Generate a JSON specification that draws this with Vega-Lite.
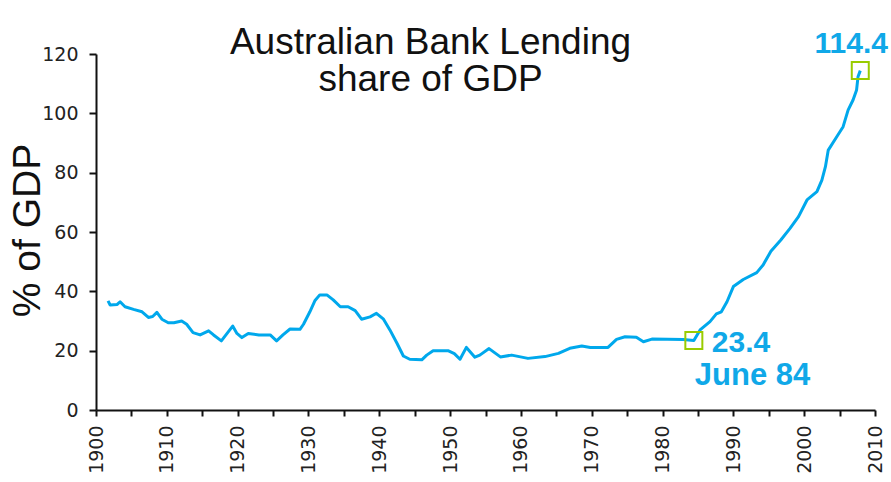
{
  "$schema": "https://vega.github.io/schema/vega-lite/v6.json",
  "autosize": "none",
  "width": 779,
  "height": 356,
  "padding": {"left": 96, "top": 54, "right": 16, "bottom": 72},
  "background": "white",
  "config": {"view": {"stroke": null}},
  "title": {
    "text": ["Australian Bank Lending", "share of GDP"],
    "font": "Liberation Sans",
    "fontSize": 37,
    "fontWeight": "normal",
    "color": "#111111",
    "anchor": "middle",
    "lineHeight": 37,
    "dx": -55,
    "offset": -70
  },
  "datasets": {
    "series": [
      {"year": 1901.7, "value": 36.8}, {"year": 1902.0, "value": 35.4}, {"year": 1903.0, "value": 35.6},
      {"year": 1903.4, "value": 36.5}, {"year": 1904.1, "value": 34.8}, {"year": 1905.3, "value": 33.9},
      {"year": 1906.5, "value": 33.1}, {"year": 1907.4, "value": 31.2}, {"year": 1908.0, "value": 31.5},
      {"year": 1908.6, "value": 32.9}, {"year": 1909.3, "value": 30.6}, {"year": 1910.2, "value": 29.4},
      {"year": 1911.0, "value": 29.4}, {"year": 1912.1, "value": 30.0}, {"year": 1912.8, "value": 28.9},
      {"year": 1913.7, "value": 26.1}, {"year": 1914.7, "value": 25.3}, {"year": 1915.9, "value": 26.7},
      {"year": 1916.6, "value": 25.3}, {"year": 1917.7, "value": 23.3}, {"year": 1918.7, "value": 26.4},
      {"year": 1919.3, "value": 28.3}, {"year": 1919.9, "value": 25.8}, {"year": 1920.6, "value": 24.4},
      {"year": 1921.5, "value": 25.8}, {"year": 1923.0, "value": 25.3}, {"year": 1924.6, "value": 25.3},
      {"year": 1925.5, "value": 23.3}, {"year": 1926.4, "value": 25.3}, {"year": 1927.4, "value": 27.3},
      {"year": 1928.8, "value": 27.2}, {"year": 1929.3, "value": 28.9}, {"year": 1930.2, "value": 33.1},
      {"year": 1930.9, "value": 36.8}, {"year": 1931.6, "value": 38.8}, {"year": 1932.6, "value": 38.8},
      {"year": 1933.5, "value": 37.1}, {"year": 1934.5, "value": 34.8}, {"year": 1935.6, "value": 34.8},
      {"year": 1936.6, "value": 33.5}, {"year": 1937.5, "value": 30.6}, {"year": 1938.7, "value": 31.4},
      {"year": 1939.6, "value": 32.6}, {"year": 1940.6, "value": 30.6}, {"year": 1941.5, "value": 27.0},
      {"year": 1942.5, "value": 22.5}, {"year": 1943.4, "value": 18.2}, {"year": 1944.3, "value": 17.1},
      {"year": 1946.0, "value": 16.9}, {"year": 1946.7, "value": 18.5}, {"year": 1947.6, "value": 20.0},
      {"year": 1949.7, "value": 20.0}, {"year": 1950.6, "value": 19.0}, {"year": 1951.4, "value": 17.1},
      {"year": 1952.3, "value": 21.1}, {"year": 1953.5, "value": 17.8}, {"year": 1954.2, "value": 18.5},
      {"year": 1955.5, "value": 20.7}, {"year": 1957.1, "value": 17.9}, {"year": 1958.7, "value": 18.5},
      {"year": 1961.0, "value": 17.4}, {"year": 1963.4, "value": 18.0}, {"year": 1965.3, "value": 19.1},
      {"year": 1966.9, "value": 20.8}, {"year": 1968.6, "value": 21.6}, {"year": 1969.8, "value": 21.1},
      {"year": 1972.3, "value": 21.1}, {"year": 1973.5, "value": 23.8}, {"year": 1974.7, "value": 24.7},
      {"year": 1976.3, "value": 24.5}, {"year": 1977.3, "value": 23.0}, {"year": 1978.5, "value": 23.9},
      {"year": 1982.9, "value": 23.8}, {"year": 1984.42, "value": 23.4}, {"year": 1985.3, "value": 27.0},
      {"year": 1986.7, "value": 29.8}, {"year": 1987.6, "value": 32.4}, {"year": 1988.3, "value": 33.1},
      {"year": 1989.1, "value": 36.5}, {"year": 1990.0, "value": 41.6}, {"year": 1991.4, "value": 44.0},
      {"year": 1993.3, "value": 46.3}, {"year": 1994.2, "value": 48.9}, {"year": 1995.3, "value": 53.5},
      {"year": 1996.7, "value": 57.3}, {"year": 1998.0, "value": 61.2}, {"year": 1999.2, "value": 65.2},
      {"year": 2000.4, "value": 70.8}, {"year": 2001.8, "value": 73.6}, {"year": 2002.5, "value": 77.5},
      {"year": 2003.0, "value": 82.0}, {"year": 2003.4, "value": 87.6}, {"year": 2004.6, "value": 92.1},
      {"year": 2005.5, "value": 95.5}, {"year": 2006.2, "value": 101.1}, {"year": 2006.9, "value": 104.5},
      {"year": 2007.4, "value": 107.9}, {"year": 2007.6, "value": 112.3}, {"year": 2007.92, "value": 114.4}
    ],
    "points": [
      {"year": 1984.42, "value": 23.4, "label": "23.4", "sub": "June 84"},
      {"year": 2007.92, "value": 114.4, "label": "114.4", "sub": ""}
    ]
  },
  "encoding": {
    "x": {
      "field": "year", "type": "quantitative",
      "scale": {"domain": [1900, 2010], "nice": false, "zero": false},
      "axis": {
        "title": null,
        "values": [1900,1905,1910,1915,1920,1925,1930,1935,1940,1945,1950,1955,1960,1965,1970,1975,1980,1985,1990,1995,2000,2005,2010],
        "format": "d",
        "labelExpr": "datum.value % 10 === 0 ? datum.label : ''",
        "labelAngle": -90,
        "labelFont": "DejaVu Sans",
        "labelFontSize": 19,
        "labelColor": "#222222",
        "labelPadding": 9,
        "labelFlush": false,
        "labelOverlap": false,
        "grid": false,
        "domainColor": "#111111",
        "domainWidth": 2,
        "tickColor": "#111111",
        "tickWidth": 2,
        "tickSize": 6
      }
    },
    "y": {
      "field": "value", "type": "quantitative",
      "scale": {"domain": [0, 120], "nice": false},
      "axis": {
        "title": "% of GDP",
        "titleFont": "Liberation Sans",
        "titleFontSize": 39,
        "titleFontWeight": "normal",
        "titleColor": "#111111",
        "titleAngle": -90,
        "titleX": -57,
        "titleY": 176,
        "titleAlign": "center",
        "titleBaseline": "alphabetic",
        "values": [0, 20, 40, 60, 80, 100, 120],
        "labelFont": "DejaVu Sans",
        "labelFontSize": 19,
        "labelColor": "#222222",
        "labelPadding": 11,
        "labelFlush": false,
        "grid": false,
        "domainColor": "#111111",
        "domainWidth": 2,
        "tickColor": "#111111",
        "tickWidth": 2,
        "tickSize": 7
      }
    }
  },
  "layer": [
    {
      "data": {"name": "series"},
      "mark": {"type": "line", "color": "#00A8EC", "strokeWidth": 3, "strokeJoin": "round"}
    },
    {
      "data": {"name": "points"},
      "mark": {"type": "point", "shape": "square", "size": 289, "filled": false, "stroke": "#99CC00", "strokeWidth": 2, "opacity": 1}
    },
    {
      "data": {"name": "points"},
      "transform": [{"filter": "datum.year < 2000"}],
      "mark": {"type": "text", "font": "Liberation Sans", "fontWeight": "bold", "fontSize": 30, "color": "#10A8E8", "align": "left", "baseline": "alphabetic", "dx": 18, "dy": 11},
      "encoding": {"text": {"field": "label"}}
    },
    {
      "data": {"name": "points"},
      "transform": [{"filter": "datum.year < 2000"}],
      "mark": {"type": "text", "font": "Liberation Sans", "fontWeight": "bold", "fontSize": 31, "color": "#10A8E8", "align": "left", "baseline": "alphabetic", "dx": 1, "dy": 44},
      "encoding": {"text": {"field": "sub"}}
    },
    {
      "data": {"name": "points"},
      "transform": [{"filter": "datum.year > 2000"}],
      "mark": {"type": "text", "font": "Liberation Sans", "fontWeight": "bold", "fontSize": 30, "color": "#10A8E8", "align": "center", "baseline": "alphabetic", "dx": -9, "dy": -18},
      "encoding": {"text": {"field": "label"}}
    }
  ]
}
